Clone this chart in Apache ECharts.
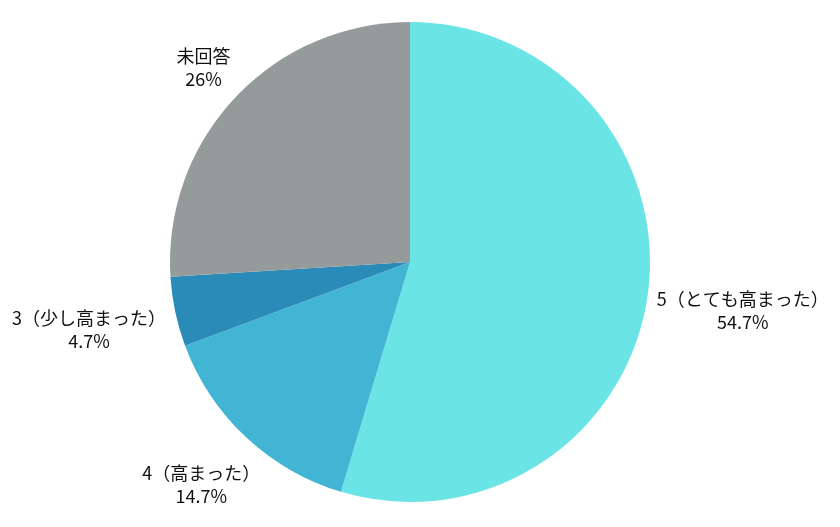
<!DOCTYPE html>
<html>
<head>
<meta charset="utf-8">
<script src="https://cdn.jsdelivr.net/npm/echarts@6/dist/echarts.min.js"></script>
<style>
html,body{margin:0;padding:0;background:#fff;}
#pieChart{width:840px;height:527px;}
</style>
</head>
<body>
<div id="pieChart"></div>
<script>
var categories = ['5（とても高まった）', '4（高まった）', '3（少し高まった）', '未回答'];
var values = [54.7, 14.7, 4.7, 26];
var colors = ['#6be4e6', '#43b5d4', '#2b8bb8', '#959b9b'];

var cx = 410, cy = 262, r = 240;

var pieChart = echarts.init(document.getElementById('pieChart'));

function midAngle(idx){
    var total = 0, before = 0;
    for (var i = 0; i < values.length; i++){
        total += values[i];
        if (i < idx) before += values[i];
    }
    return (before + values[idx] / 2) / total * 2 * Math.PI;
}

var seriesData = [];
for (var i = 0; i < categories.length; i++){
    seriesData.push({value: values[i], name: categories[i], itemStyle: {color: colors[i]}});
}

var option = {
    animation: false,
    series: [{
        type: 'pie',
        center: [cx, cy],
        radius: [0, r],
        startAngle: 90,
        clockwise: true,
        data: seriesData,
        label: {
            show: true,
            position: 'outside',
            formatter: '{b}\n{c}%',
            color: '#111111',
            fontSize: 18,
            lineHeight: 23,
            fontFamily: '"Noto Sans CJK JP", "Noto Sans", sans-serif',
            align: 'center',
            overflow: 'none'
        },
        labelLine: {show: false},
        labelLayout: function (p) {
            var a = midAngle(p.dataIndex);
            var dx = Math.sin(a), dy = -Math.cos(a);
            var w = p.labelRect.width, h = p.labelRect.height;
            // 标签框外沿离圆周固定距离
            var d = r + 8 + Math.abs(dx) * w / 2 + Math.abs(dy) * h / 2;
            return {x: cx + d * dx, y: cy + d * dy, align: 'center', verticalAlign: 'middle'};
        },
        emphasis: {disabled: true}
    }]
};
pieChart.setOption(option);
</script>
</body>
</html>
